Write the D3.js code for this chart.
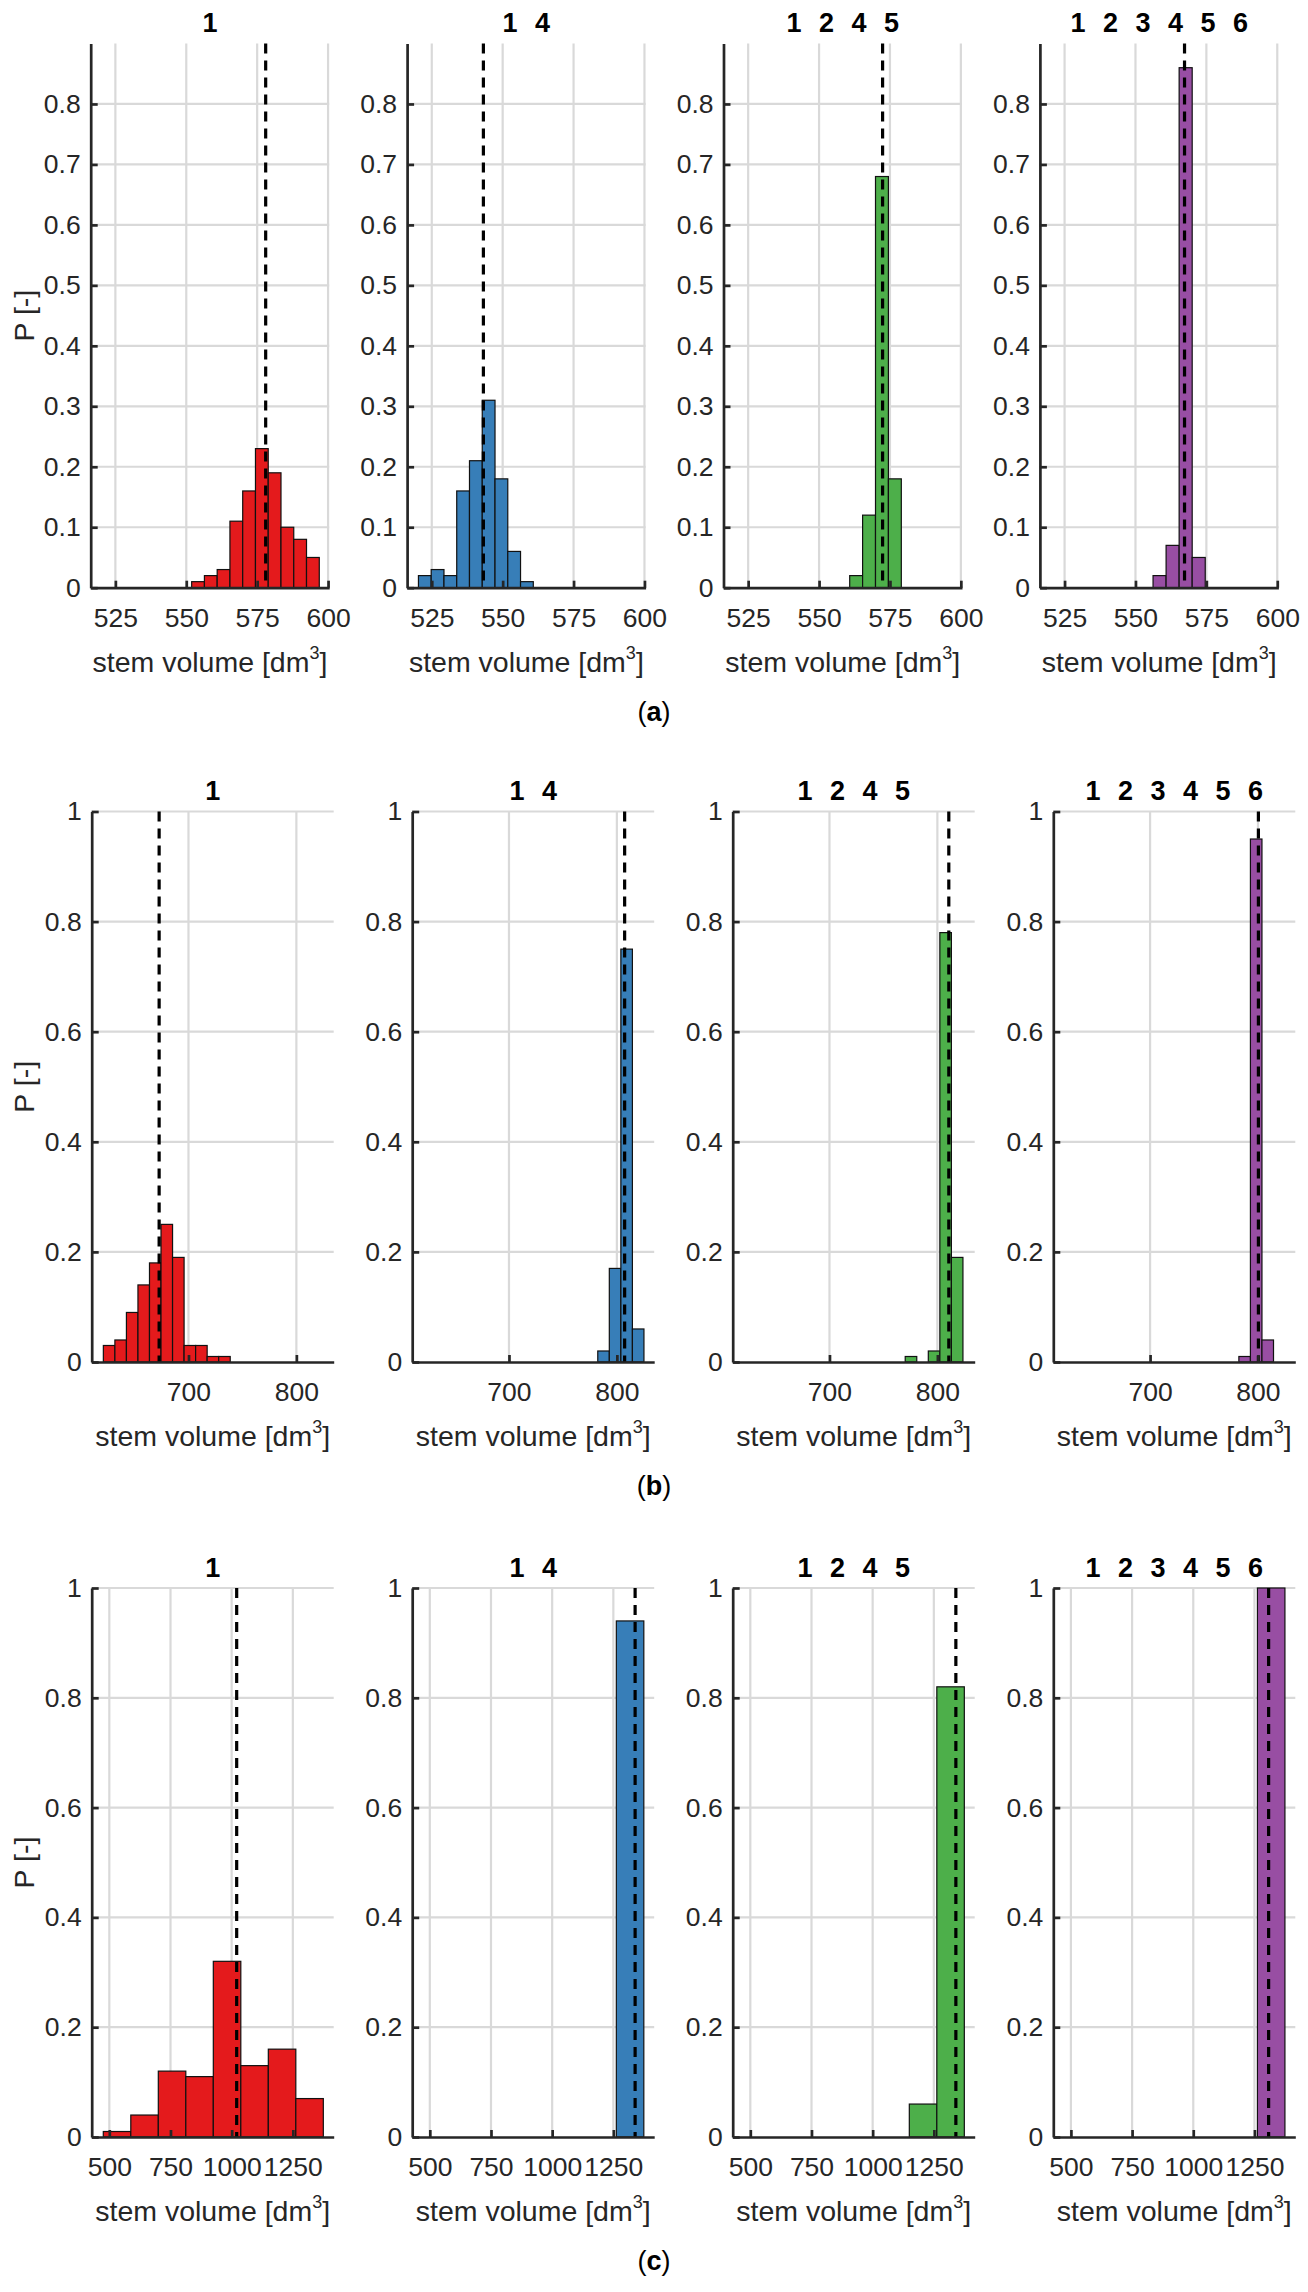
<!DOCTYPE html>
<html>
<head>
<meta charset="utf-8">
<script src="https://cdn.jsdelivr.net/npm/d3@7"></script>
<style>
  body { margin: 0; background: #fff; }
  svg { display: block; }
  text { font-family: "Liberation Sans", Arial, Helvetica, sans-serif; }
</style>
</head>
<body>
<div id="chart-area"></div>
<script>
// ---- data ----
const rowLabels = ["a", "b", "c"]
const panelTitles = [["1"], ["1", "4"], ["1", "2", "4", "5"], ["1", "2", "3", "4", "5", "6"]]

const xDomains = [[516.3, 600.4], [610.3, 834.6], [428, 1417]]
const xTickValues = [[525, 550, 575, 600], [700, 800], [500, 750, 1000, 1250]]
const yMaxValues = [0.9, 1, 1]
const yTickValues = [
  [0, 0.1, 0.2, 0.3, 0.4, 0.5, 0.6, 0.7, 0.8],
  [0, 0.2, 0.4, 0.6, 0.8, 1],
  [0, 0.2, 0.4, 0.6, 0.8, 1]
]

// histogram bins: first edge + width per panel (stem volume, dm3)
const binStarts = [[551.9, 520.3, 560.8, 556.2], [621.1, 782.3, 770.2, 782.3], [475.4, 1262.2, 1149.8, 1262.2]]
const binWidths = [[4.5, 4.5, 4.55, 4.6], [10.69, 10.7, 10.7, 10.7], [112.4, 112.4, 112.4, 112.4]]

const probA = [
  [0.01, 0.02, 0.03, 0.11, 0.16, 0.23, 0.19, 0.10, 0.08, 0.05],
  [0.02, 0.03, 0.02, 0.16, 0.21, 0.31, 0.18, 0.06, 0.01],
  [0.02, 0.12, 0.68, 0.18],
  [0.02, 0.07, 0.86, 0.05]
]
const probB = [
  [0.03, 0.04, 0.09, 0.14, 0.18, 0.25, 0.19, 0.03, 0.03, 0.01, 0.01],
  [0.02, 0.17, 0.75, 0.06],
  [0.01, 0, 0.02, 0.78, 0.19],
  [0.01, 0.95, 0.04]
]
const probC = [
  [0.01, 0.04, 0.12, 0.11, 0.32, 0.13, 0.16, 0.07],
  [0.94],
  [0.06, 0.82],
  [1.0]
]
const probRows = [probA, probB, probC]

// dashed reference lines
const meanValues = [[578.0, 543.2, 572.4, 567.3], [672.8, 807.2, 810.6, 800.4], [1020.5, 1339, 1340, 1308]]

// ---- layout / style ----
const W = 1308, H = 2292
const ROWS = [
  { TOP: 43.5, BOTTOM: 587.7, LEFT: [90.7, 407.1, 723.5, 1039.9], WIDTH: 238.5 },
  { TOP: 811.5, BOTTOM: 1362, LEFT: [91.7, 412.2, 732.7, 1053.3], WIDTH: 242 },
  { TOP: 1588, BOTTOM: 2137, LEFT: [91.7, 412.2, 732.7, 1053.3], WIDTH: 242 }
]
const COLORS = ["#E41A1C", "#377EB8", "#4DAF4A", "#984EA3"]
const AXIS_COLOR = "#262626"
const GRID_COLOR = "#d9d9d9"
const TICK_FONT = 26.5
const LABEL_FONT = 28.5
const TITLE_FONT = 27
const TITLE_STEP = 32.5

const svg = d3.select("#chart-area").append("svg")
  .attr("width", W)
  .attr("height", H)

svg.append("rect").attr("width", W).attr("height", H).attr("fill", "#fff")

ROWS.forEach((row, r) => {
  const HEIGHT = row.BOTTOM - row.TOP

  const y = d3.scaleLinear()
    .domain([0, yMaxValues[r]])
    .range([HEIGHT, 0])

  panelTitles.forEach((title, p) => {
    const g = svg.append("g")
      .attr("transform", `translate(${row.LEFT[p]}, ${row.TOP})`)

    const x = d3.scaleLinear()
      .domain(xDomains[r])
      .range([0, row.WIDTH])

    // grid
    g.selectAll(".vgrid")
      .data(xTickValues[r])
      .enter().append("line")
        .attr("class", "vgrid")
        .attr("x1", d => x(d)).attr("x2", d => x(d))
        .attr("y1", 0).attr("y2", HEIGHT)
        .attr("stroke", GRID_COLOR)
        .attr("stroke-width", 2.2)

    g.selectAll(".hgrid")
      .data(yTickValues[r].filter(d => d > 0))
      .enter().append("line")
        .attr("class", "hgrid")
        .attr("x1", 0).attr("x2", row.WIDTH)
        .attr("y1", d => y(d)).attr("y2", d => y(d))
        .attr("stroke", GRID_COLOR)
        .attr("stroke-width", 2.2)

    // histogram bars
    const start = binStarts[r][p]
    const bw = binWidths[r][p]
    const bins = probRows[r][p].map((v, i) => ({ x0: start + i * bw, x1: start + (i + 1) * bw, v: v }))

    g.selectAll(".bar")
      .data(bins.filter(d => d.v > 0))
      .enter().append("rect")
        .attr("class", "bar")
        .attr("x", d => x(d.x0))
        .attr("y", d => y(d.v))
        .attr("width", d => x(d.x1) - x(d.x0))
        .attr("height", d => HEIGHT - y(d.v))
        .attr("fill", COLORS[p])
        .attr("stroke", "#111")
        .attr("stroke-width", 1.2)

    // dashed line
    g.append("line")
      .attr("x1", x(meanValues[r][p])).attr("x2", x(meanValues[r][p]))
      .attr("y1", y(yMaxValues[r])).attr("y2", HEIGHT)
      .attr("stroke", "#000")
      .attr("stroke-width", 3.2)
      .attr("stroke-dasharray", "10,7")

    // axes
    const xAxisCall = d3.axisBottom(x)
      .tickValues(xTickValues[r])
      .tickSizeInner(-7)
      .tickSizeOuter(0)
      .tickPadding(20)
      .tickFormat(d => d + "")
    const xg = g.append("g")
      .attr("transform", `translate(0, ${HEIGHT})`)
      .call(xAxisCall)
    xg.select(".domain").attr("stroke-width", 2.7)
    xg.selectAll(".tick line").attr("stroke-width", 2.7)
    xg.attr("color", AXIS_COLOR)
      .selectAll("text")
        .attr("font-size", TICK_FONT)
        .attr("font-family", "Liberation Sans, Arial, sans-serif")

    const yAxisCall = d3.axisLeft(y)
      .tickValues(yTickValues[r])
      .tickSizeInner(-7)
      .tickSizeOuter(0)
      .tickPadding(10)
      .tickFormat(d => String(+d.toFixed(1)))
    const yg = g.append("g").call(yAxisCall)
    yg.select(".domain").attr("stroke-width", 2.7)
    yg.selectAll(".tick line").attr("stroke-width", 2.7)
    yg.attr("color", AXIS_COLOR)
      .selectAll("text")
        .attr("font-size", TICK_FONT)
        .attr("font-family", "Liberation Sans, Arial, sans-serif")

    // title tokens
    g.selectAll(".title")
      .data(title)
      .enter().append("text")
        .attr("class", "title")
        .attr("x", (d, i) => row.WIDTH / 2 + (i - (title.length - 1) / 2) * TITLE_STEP)
        .attr("y", -11.5)
        .attr("text-anchor", "middle")
        .attr("font-size", TITLE_FONT)
        .attr("font-weight", "bold")
        .attr("fill", "#000")
        .text(d => d)

    // x label
    const xl = g.append("text")
      .attr("x", row.WIDTH / 2)
      .attr("y", HEIGHT + 84)
      .attr("text-anchor", "middle")
      .attr("font-size", LABEL_FONT)
      .attr("fill", AXIS_COLOR)
    xl.append("tspan").text("stem volume [dm")
    xl.append("tspan").attr("font-size", 18).attr("dy", -13).text("3")
    xl.append("tspan").attr("dy", 13).text("]")

    // y label
    if (p === 0) {
      g.append("text")
        .attr("transform", `translate(${24 - row.LEFT[p]}, ${HEIGHT / 2}) rotate(-90)`)
        .attr("text-anchor", "middle")
        .attr("dominant-baseline", "central")
        .attr("font-size", LABEL_FONT)
        .attr("fill", AXIS_COLOR)
        .text("P [-]")
    }
  })

  // row caption
  const cap = svg.append("text")
    .attr("x", W / 2)
    .attr("y", row.BOTTOM + 133)
    .attr("text-anchor", "middle")
    .attr("font-size", 27)
    .attr("font-family", "Liberation Serif, DejaVu Serif, serif")
    .attr("fill", "#000")
  cap.append("tspan").text("(")
  cap.append("tspan").attr("font-weight", "bold").text(rowLabels[r])
  cap.append("tspan").text(")")
})
</script>
</body>
</html>
